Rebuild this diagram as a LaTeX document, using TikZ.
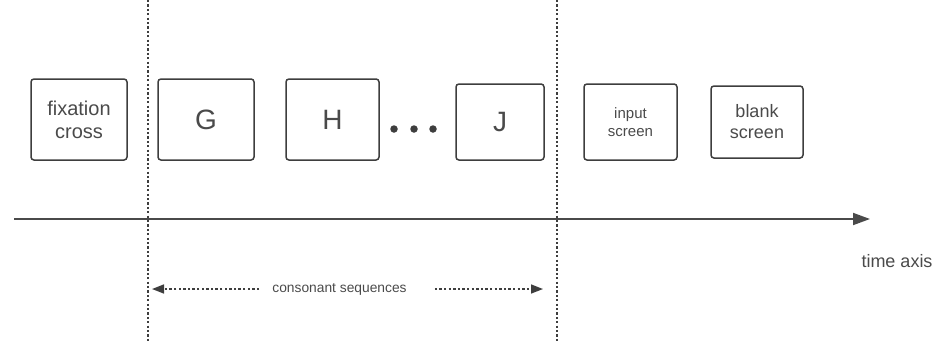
\documentclass[tikz,border=0pt]{standalone}
\usepackage{fontspec}
\setmainfont{Liberation Sans}
\usetikzlibrary{arrows.meta}
\definecolor{boxgray}{HTML}{3E3E3E}
\definecolor{txtgray}{HTML}{4A4A4A}
\begin{document}
\begin{tikzpicture}[x=1pt, y=-1pt, line cap=butt,
  frame/.style={draw=boxgray, line width=1.5pt, rounded corners=3pt, inner sep=0pt, align=center, text=txtgray},
  guide/.style={draw=boxgray, line width=1.7pt, dash pattern=on 2.2pt off 2.2pt},
  span/.style={draw=boxgray, line width=1.6pt, dash pattern=on 2.4pt off 2.2pt, -{Triangle[length=12pt,width=9pt]}}]
\useasboundingbox (0,0) rectangle (939,343);
% Cajas
\node [frame, minimum width=96pt, minimum height=81pt, font=\fontsize{20}{23}\selectfont] (fix) at (79,119.5) {fixation\\cross};
\node [frame, minimum width=96pt, minimum height=81pt, font=\fontsize{28}{30}\selectfont] (G) at (206,119.5) {G};
\node [frame, minimum width=93pt, minimum height=81pt, font=\fontsize{28}{30}\selectfont] (H) at (332.5,119.5) {H};
\node [frame, minimum width=88pt, minimum height=76pt, font=\fontsize{28}{30}\selectfont] (J) at (500,122) {J};
\node [frame, minimum width=93pt, minimum height=76pt, font=\fontsize{15}{18}\selectfont] (input) at (630.5,122) {input\\screen};
\node [frame, minimum width=92pt, minimum height=72pt, font=\fontsize{18}{21}\selectfont] (blank) at (757,122) {blank\\screen};
% Puntos
\foreach \x/\n in {394/d1, 414/d2, 433/d3}
  \node [circle, fill=boxgray, inner sep=0pt, minimum size=7.5pt] (\n) at (\x,129) {};
% Lineas guia
\coordinate (top1) at (148,0);
\coordinate (bot1) at (148,343);
\coordinate (top2) at (557,0);
\coordinate (bot2) at (557,343);
\draw [guide] (top1) -- (bot1);
\draw [guide] (top2) -- (bot2);
% Eje
\coordinate (axstart) at (14,219);
\coordinate (axend) at (870,219);
\draw [draw=txtgray, line width=1.8pt, -{Triangle[length=17pt,width=12pt]}] (axstart) -- (axend);
\node [text=txtgray, font=\fontsize{18}{20}\selectfont] (tlabel) at (897,261) {time axis};
% Secuencia
\node [text=txtgray, inner sep=0pt, font=\fontsize{13.8}{16}\selectfont] (cons) at (339.5,289) {consonant sequences};
\coordinate (consL) at (152,289);
\coordinate (consR) at (543,289);
\draw [span] ([xshift=-13pt]cons.west) -- (consL);
\draw [span] ([xshift=28pt]cons.east) -- (consR);
\end{tikzpicture}
\end{document}
